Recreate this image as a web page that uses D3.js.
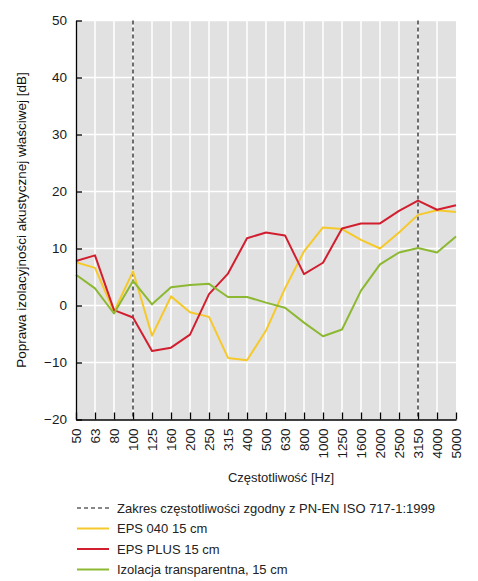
<!DOCTYPE html>
<html>
<head>
<meta charset="utf-8">
<script src="https://cdn.jsdelivr.net/npm/d3@7"></script>
<style>
  body { margin: 0; background: #fff; }
  svg { display: block; }
</style>
</head>
<body>
<div id="chart"></div>
<script>
// Frequency bands (1/3 octave) and series values in dB
const frequencies = ["50", "63", "80", "100", "125", "160", "200", "250", "315", "400", "500",
  "630", "800", "1000", "1250", "1600", "2000", "2500", "3150", "4000", "5000"];
const eps040 = [7.6, 6.6, -1.1, 6.0, -5.3, 1.6, -1.2, -2.0, -9.2, -9.6, -4.4,
  3.0, 9.5, 13.7, 13.4, 11.5, 10.0, 12.8, 15.9, 16.7, 16.4];
const epsPlus = [7.8, 8.8, -0.8, -2.1, -8.0, -7.4, -5.1, 2.0, 5.6, 11.8, 12.8,
  12.3, 5.5, 7.5, 13.5, 14.4, 14.4, 16.6, 18.4, 16.8, 17.6];
const transparent = [5.4, 3.0, -1.4, 4.3, 0.2, 3.2, 3.6, 3.8, 1.5, 1.5, 0.5,
  -0.4, -3.0, -5.4, -4.2, 2.6, 7.2, 9.3, 10.1, 9.3, 12.1];
const yTicks = [-20, -10, 0, 10, 20, 30, 40, 50];
const rangeMarks = ["100", "3150"];

const series = [
  { name: "EPS 040 15 cm", values: eps040, color: "#f6c92b" },
  { name: "EPS PLUS 15 cm", values: epsPlus, color: "#d21f2f" },
  { name: "Izolacja transparentna, 15 cm", values: transparent, color: "#8cb832" }
];

const margin = { top: 20.5, right: 22, bottom: 161.5, left: 76 };
const width = 478 - margin.left - margin.right;
const height = 581 - margin.top - margin.bottom;

const svg = d3.select("#chart").append("svg")
  .attr("width", 478)
  .attr("height", 581);

const g = svg.append("g")
  .attr("transform", `translate(${margin.left},${margin.top})`);

const x = d3.scalePoint().domain(frequencies).range([0, width]);
const y = d3.scaleLinear().domain([-20, 50]).range([height, 0]);

// Grey plot background
g.append("rect")
  .attr("width", width)
  .attr("height", height)
  .attr("fill", "#e1e1e1");

// White grid lines
g.append("g").selectAll("line")
  .data(frequencies.slice(1, -1))
  .join("line")
  .attr("x1", d => x(d)).attr("x2", d => x(d))
  .attr("y1", 0).attr("y2", height)
  .attr("stroke", "#fff").attr("stroke-width", 1.5);

g.append("g").selectAll("line")
  .data(yTicks.slice(1))
  .join("line")
  .attr("x1", 0).attr("x2", width)
  .attr("y1", d => y(d)).attr("y2", d => y(d))
  .attr("stroke", "#fff").attr("stroke-width", 1.5);

// Dashed lines marking the PN-EN ISO 717-1 range
g.append("g").selectAll("line")
  .data(rangeMarks)
  .join("line")
  .attr("x1", d => x(d)).attr("x2", d => x(d))
  .attr("y1", 0).attr("y2", height)
  .attr("stroke", "#111").attr("stroke-width", 1.2)
  .attr("stroke-dasharray", "4,3");

// Series lines
const line = d3.line()
  .x((d, i) => x(frequencies[i]))
  .y(d => y(d));

g.append("g").selectAll("path")
  .data(series)
  .join("path")
  .attr("d", d => line(d.values))
  .attr("fill", "none")
  .attr("stroke", d => d.color)
  .attr("stroke-width", 2)
  .attr("stroke-linejoin", "round");

// Axes (ticks point into the plot)
const yAxis = g.append("g")
  .call(d3.axisLeft(y).tickValues(yTicks).tickSizeInner(-6).tickSizeOuter(0)
    .tickPadding(9).tickFormat(d => d < 0 ? "\u2212" + Math.abs(d) : d));

const xAxis = g.append("g")
  .attr("transform", `translate(0,${height})`)
  .call(d3.axisBottom(x).tickSizeInner(-7).tickSizeOuter(0).tickPadding(0));

[yAxis, xAxis].forEach(a => {
  a.select(".domain").attr("stroke", "#000").attr("stroke-width", 1.3);
  a.selectAll(".tick line").attr("stroke", "#000").attr("stroke-width", 1.3);
  a.selectAll("text")
    .attr("font-family", "Liberation Sans")
    .attr("font-size", 13.5)
    .attr("fill", "#1a1a1a");
});

xAxis.selectAll("text")
  .attr("transform", "rotate(-90)")
  .attr("text-anchor", "end")
  .attr("dy", "0.35em")
  .attr("x", -9)
  .attr("y", 0);

// Axis titles
g.append("text")
  .attr("transform", "rotate(-90)")
  .attr("x", -height / 2)
  .attr("y", -margin.left + 26)
  .attr("text-anchor", "middle")
  .attr("font-family", "Liberation Sans")
  .attr("font-size", 13.5)
  .attr("fill", "#111")
  .text("Poprawa izolacyjności akustycznej właściwej [dB]");

g.append("text")
  .attr("x", 205)
  .attr("y", height + 62)
  .attr("text-anchor", "middle")
  .attr("font-family", "Liberation Sans")
  .attr("font-size", 13)
  .attr("fill", "#222")
  .text("Częstotliwość [Hz]");

// Legend
const legendItems = [{ name: "Zakres częstotliwości zgodny z PN-EN ISO 717-1:1999", color: "#111", dash: "4,3" }]
  .concat(series.map(s => ({ name: s.name, color: s.color, dash: null })));

const legend = svg.append("g")
  .attr("transform", "translate(77,508)");

const rows = legend.selectAll("g")
  .data(legendItems)
  .join("g")
  .attr("transform", (d, i) => `translate(0,${i * 20.5})`);

rows.append("line")
  .attr("x1", 0).attr("x2", 32)
  .attr("stroke", d => d.color)
  .attr("stroke-width", d => d.dash ? 1.2 : 2)
  .attr("stroke-dasharray", d => d.dash);

rows.append("text")
  .attr("x", 40)
  .attr("dy", "0.35em")
  .attr("font-family", "Liberation Sans")
  .attr("font-size", 13)
  .attr("fill", "#222")
  .text(d => d.name);
</script>
</body>
</html>
